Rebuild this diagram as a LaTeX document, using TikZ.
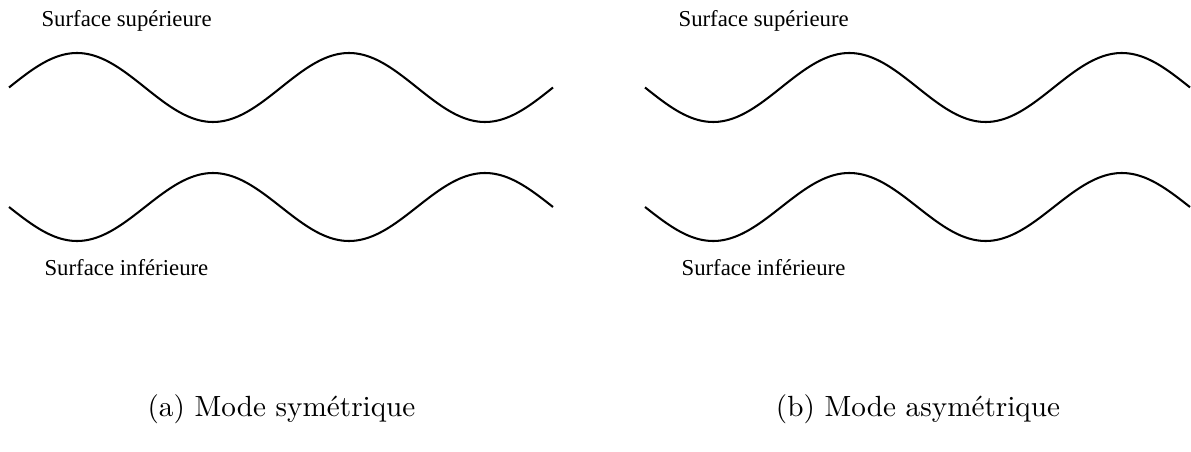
\documentclass[tikz,border=0pt]{standalone}
\usepackage{fontspec}
\newfontfamily\timesfont{Liberation Serif}
\begin{document}
\begin{tikzpicture}[x=0.3425pt,y=-0.3425pt,
  wave/.style={line width=0.7pt,smooth,samples=120},
  lbl/.style={inner sep=0pt,anchor=base west,font=\timesfont\fontsize{7.8pt}{9pt}\selectfont},
  subcaption/.style={inner sep=0pt,anchor=base,font=\fontsize{10pt}{12pt}\selectfont}]
\useasboundingbox (0,0) rectangle (1191,452);
% (a) symmetric
\node[lbl] (aup) at (41,27) {Surface supérieure};
\draw[wave] plot[domain=9:553] (\x,{87.5-34.5*sin((\x-9)/272*360)});
\draw[wave] plot[domain=9:553] (\x,{207+34*sin((\x-9)/272*360)});
\node[lbl] (alow) at (44,275) {Surface inférieure};
\node[subcaption] (acap) at (281.5,416) {(a) Mode symétrique};
% (b) asymmetric
\node[lbl] (bup) at (678,27) {Surface supérieure};
\draw[wave] plot[domain=645:1190] (\x,{87.5+34.5*sin((\x-645)/272.5*360)});
\draw[wave] plot[domain=645:1190] (\x,{207+34*sin((\x-645)/272.5*360)});
\node[lbl] (blow) at (681,275) {Surface inférieure};
\node[subcaption] (bcap) at (918,416) {(b) Mode asymétrique};
\end{tikzpicture}
\end{document}
